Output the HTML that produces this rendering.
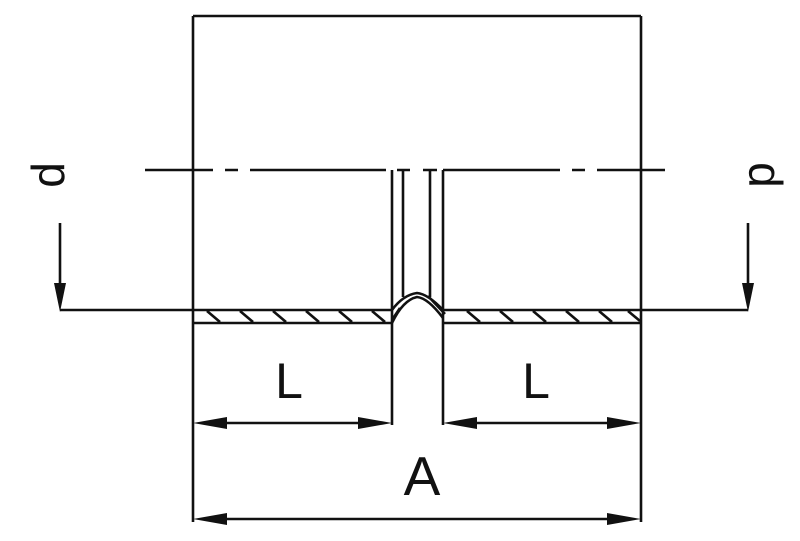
<!DOCTYPE html>
<html><head><style>body{margin:0;background:#fff}svg{display:block}</style></head><body>
<svg width="800" height="541" viewBox="0 0 800 541" xmlns="http://www.w3.org/2000/svg" font-family="Liberation Sans, sans-serif">
<g stroke="#111" stroke-width="2.6" fill="none">
<path d="M193 16H641M193 16V522M641 16V522"/>
<path d="M145 170H213M225 170H238M250 170H386M397 170H410M423 170H437M443 170H560M572 170H585M597 170H665"/>
<path d="M392 170V425M403 170V297M430 170V297M443 170V425"/>
<path d="M193 310H392M193 323H392M443 310H641M443 323H641"/>
<path d="M392 323Q403 300 417 297Q428 298 443 318M392 310Q403 295 417 293Q428 294 443 310M392 320L400 308M428 296L445 314"/>
<path d="M207 311L220 322M240 311L253 322M273 311L286 322M306 311L319 322M339 311L352 322M372 311L385 322M467 311L480 322M500 311L513 322M533 311L546 322M566 311L579 322M599 311L612 322M628 311L640 321"/>
<path d="M60 310H193M60 223V300M641 310H748M748 223V300"/>
<path d="M205 423H380M455 423H629M205 519H629"/>
</g>
<g fill="#111">
<path d="M54 283L66 283L60 312Z"/>
<path d="M742 283L754 283L748 312Z"/>
<path d="M193 423L227 417L227 429Z"/>
<path d="M392 423L358 417L358 429Z"/>
<path d="M443 423L477 417L477 429Z"/>
<path d="M641 423L607 417L607 429Z"/>
<path d="M193 519L227 513L227 525Z"/>
<path d="M641 519L607 513L607 525Z"/>
</g>
<g fill="#111" font-size="50">
<text x="289" y="398" text-anchor="middle">L</text>
<text x="536" y="398" text-anchor="middle">L</text>
<text x="422" y="495" text-anchor="middle" font-size="55">A</text>
<text transform="translate(64 175) rotate(-90)" text-anchor="middle" font-size="46">d</text>
<text transform="translate(774 175) rotate(-90)" text-anchor="middle" font-size="46">p</text>
</g>
</svg>
</body></html>
